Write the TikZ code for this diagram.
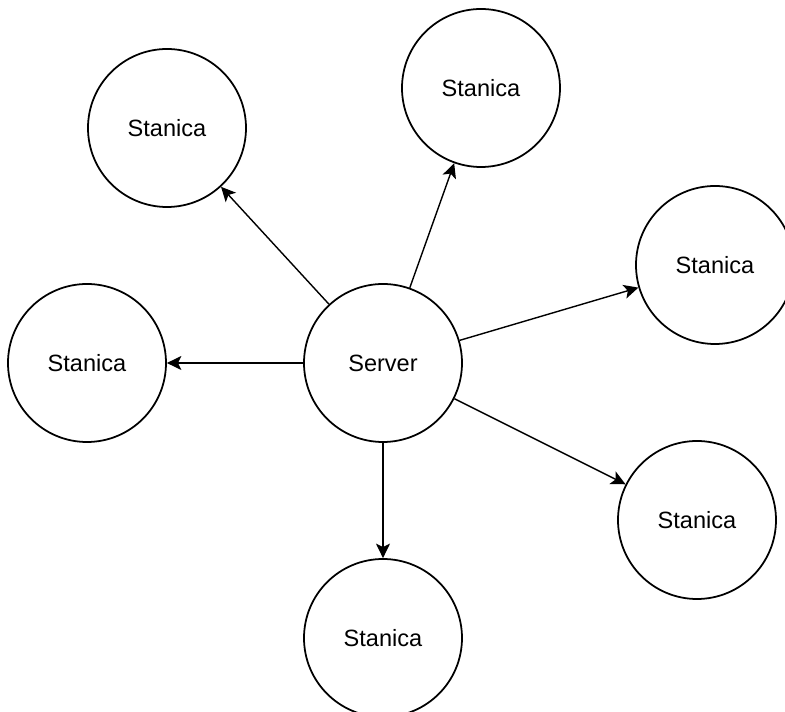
\documentclass[tikz,border=0pt]{standalone}
\usepackage{fontspec}
\setmainfont{Liberation Sans}
\usetikzlibrary{arrows.meta}
\tikzset{
    stn/.style={circle, draw, line width=1pt, minimum size=3.16cm, inner sep=0pt, font=\fontsize{13.4}{16}\selectfont},
    link/.style={->, line width=0.8pt},
    >={Stealth[length=0.29cm, width=0.28cm, inset=0.07cm]}
}
\begin{document}
\begin{tikzpicture}
        \useasboundingbox (-7.66, -6.98) rectangle (8.04, 7.26);
        \clip (-7.66, -6.98) rectangle (8.04, 7.26);
        \node[stn] (srv) at (0, 0) {Server};
        \node[stn] (st1) at (-4.32, 4.70) {Stanica};
        \node[stn] (st2) at (1.96, 5.50) {Stanica};
        \node[stn] (st3) at (6.64, 1.96) {Stanica};
        \node[stn] (st4) at (-5.92, 0) {Stanica};
        \node[stn] (st5) at (6.28, -3.14) {Stanica};
        \node[stn] (st6) at (0, -5.50) {Stanica};
        \draw[link] (srv) to (st1);
        \draw[link] (srv) to (st2);
        \draw[link] (srv) to (st3);
        \draw[link] (srv) to (st4);
        \draw[link] (srv) to (st5);
        \draw[link] (srv) to (st6);
    \end{tikzpicture}
\end{document}
